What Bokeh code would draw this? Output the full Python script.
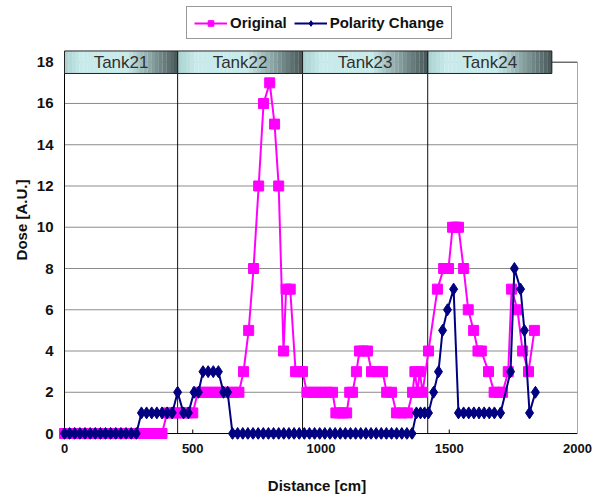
from bokeh.plotting import figure
from bokeh.models import Range1d, FixedTicker, Legend, LegendItem
from bokeh.core.properties import value
from bokeh.embed import file_html
from bokeh.resources import INLINE

# ---------------- data ----------------
orig_x = [0, 20, 40, 60, 80, 100, 120, 140, 160, 180, 200, 220, 240, 260, 280, 300, 320, 340, 360, 380,
          400, 420, 440, 460, 480, 500,
          520, 540, 560, 580, 600, 620, 640, 660, 680,
          698, 718, 737, 757, 776, 800, 819, 835, 854, 864, 880, 901, 915, 928,
          945, 965, 985, 1005, 1025, 1045, 1058, 1072, 1086, 1100, 1112, 1123,
          1138, 1150, 1165, 1181, 1197, 1218, 1240, 1256, 1275, 1294, 1315, 1337, 1357, 1366, 1376, 1385, 1396, 1419,
          1454, 1478, 1488, 1497, 1513, 1525, 1536, 1556, 1574, 1595, 1612, 1625, 1653, 1675, 1692, 1708, 1730,
          1743, 1766, 1786, 1809, 1832]
orig_y = [0, 0, 0, 0, 0, 0, 0, 0, 0, 0, 0, 0, 0, 0, 0, 0, 0, 0, 0, 0,
          1, 1, 1, 1, 1, 1,
          2, 2, 2, 2, 2, 2, 2, 2, 2,
          3, 5, 8, 12, 16, 17, 15, 12, 4, 7, 7, 3, 3, 3,
          2, 2, 2, 2, 2, 2, 1, 1, 1, 1, 2, 2,
          3, 4, 4, 4, 3, 3, 3, 2, 2, 1, 1, 1, 2, 3, 2, 3, 2, 4,
          7, 8, 8, 8, 10, 10, 10, 8, 6, 5, 4, 4, 3, 2, 2, 2, 3,
          7, 6, 4, 3, 5]

pol_x = [0, 20, 40, 60, 80, 100, 120, 140, 160, 180, 200, 220, 240, 260, 280,
         300, 320, 340, 360, 380, 400, 420, 441, 464, 483, 505, 522, 540, 560, 580, 600, 620, 636,
         655, 675, 695, 715, 735, 755, 775, 795, 815, 835, 855, 875, 895, 915, 935, 955, 975, 995,
         1015, 1035, 1055, 1075, 1095, 1115, 1135, 1155, 1175, 1195, 1215, 1235, 1255, 1275, 1295, 1315,
         1335, 1355,
         1372, 1388, 1404, 1419, 1439, 1458, 1474, 1493, 1517, 1536, 1556, 1576, 1596, 1616, 1636, 1656,
         1676, 1700, 1739, 1754, 1778, 1793, 1813, 1836]
pol_y = [0, 0, 0, 0, 0, 0, 0, 0, 0, 0, 0, 0, 0, 0, 0,
         1, 1, 1, 1, 1, 1, 1, 2, 1, 1, 2, 2, 3, 3, 3, 3, 2, 2,
         0, 0, 0, 0, 0, 0, 0, 0, 0, 0, 0, 0, 0, 0, 0, 0, 0, 0,
         0, 0, 0, 0, 0, 0, 0, 0, 0, 0, 0, 0, 0, 0, 0, 0,
         0, 0,
         1, 1, 1, 1, 2, 3, 5, 6, 7, 1, 1, 1, 1, 1, 1, 1,
         1, 1, 3, 8, 7, 5, 1, 2]

tank_names = ["Tank21", "Tank22", "Tank23", "Tank24"]
tank_edges = [0, 441, 928, 1416, 1900]

x_ticks = [0, 500, 1000, 1500, 2000]
y_ticks = [0, 2, 4, 6, 8, 10, 12, 14, 16, 18]

X_MIN, X_MAX = 0, 2000
Y_MIN, Y_MAX = 0, 18

# ---------------- layout constants ----------------
W, H = 600, 496
FRAME_L, FRAME_R, FRAME_T, FRAME_B = 56, 577, 0, 441
px_per_cm = (FRAME_R - 64) / (X_MAX - X_MIN)
px_per_unit = 20.72
x_start = X_MIN - (64 - FRAME_L) / px_per_cm
y_start = Y_MIN - (FRAME_B - 435) / px_per_unit
y_end = Y_MAX + (62 - FRAME_T) / px_per_unit
head_top = Y_MAX + (62 - 50.7) / px_per_unit
head_bot = Y_MAX - (73.3 - 62) / px_per_unit

FONT = "Liberation Sans"

p = figure(width=W, height=H, output_backend="svg", toolbar_location=None,
           x_range=Range1d(x_start, X_MAX), y_range=Range1d(y_start, y_end),
           min_border_left=FRAME_L, min_border_right=W - FRAME_R,
           min_border_top=FRAME_T, min_border_bottom=H - FRAME_B)
p.outline_line_color = None
p.xgrid.visible = False
p.ygrid.visible = False
p.background_fill_color = "white"
p.border_fill_color = "white"

for ax in (p.xaxis[0], p.yaxis[0]):
    ax.axis_line_color = None
    ax.major_tick_line_color = None
    ax.minor_tick_line_color = None
    ax.major_tick_out = 0
    ax.major_tick_in = 0
    ax.minor_tick_out = 0
    ax.minor_tick_in = 0
    ax.major_label_text_font = FONT
    ax.major_label_text_font_style = "bold"
    ax.major_label_text_color = "#111111"
    ax.axis_label_text_font = FONT
    ax.axis_label_text_font_style = "bold"
    ax.axis_label_text_color = "#111111"

p.xaxis.major_label_text_font_size = "13px"
p.yaxis.major_label_text_font_size = "15px"
p.xaxis.axis_label_text_font_size = "15px"
p.yaxis.axis_label_text_font_size = "15px"
p.xaxis.ticker = FixedTicker(ticks=x_ticks)
p.yaxis.ticker = FixedTicker(ticks=y_ticks)
p.xaxis.major_label_standoff = 4
p.yaxis.major_label_standoff = 3
p.xaxis.axis_label = "Distance [cm]"
p.yaxis.axis_label = "Dose [A.U.]"
p.xaxis.axis_label_standoff = 21
p.yaxis.axis_label_standoff = 4

# gridlines
grid_y = [t for t in y_ticks if t > Y_MIN]
p.segment(x0=[X_MIN] * len(grid_y), x1=[X_MAX] * len(grid_y), y0=grid_y, y1=grid_y,
          line_color="#8c8c8c", line_width=1)
# tank separators
seps = tank_edges[1:-1]
p.segment(x0=seps, x1=seps, y0=[Y_MIN] * len(seps), y1=[head_bot] * len(seps),
          line_color="#111111", line_width=1)
# right / top border
p.segment(x0=[X_MAX, tank_edges[-1]], x1=[X_MAX, X_MAX], y0=[Y_MIN, Y_MAX], y1=[Y_MAX, Y_MAX],
          line_color="#555555", line_width=1)
# axis lines
p.segment(x0=[X_MIN, X_MIN], x1=[X_MIN, X_MAX], y0=[Y_MIN, Y_MIN], y1=[Y_MAX, Y_MIN],
          line_color="#000000", line_width=1)
# small inward x ticks
tk = [t for t in x_ticks if X_MIN < t < X_MAX]
p.segment(x0=tk, x1=tk, y0=[Y_MIN] * len(tk), y1=[Y_MIN + 4 / px_per_unit] * len(tk),
          line_color="#000000", line_width=1)

# tank header with gradient look
def shade(t):
    light = (200, 234, 234)
    left = (170, 208, 208)
    dark = (70, 86, 86)
    if t < 0.15:
        a = t / 0.15
        c = [left[i] + (light[i] - left[i]) * a for i in range(3)]
    elif t < 0.55:
        c = light
    else:
        a = (t - 0.55) / 0.45
        c = [light[i] + (dark[i] - light[i]) * a for i in range(3)]
    return "#%02x%02x%02x" % tuple(int(round(v)) for v in c)

N = 30
sl, sr, sc = [], [], []
for i in range(len(tank_names)):
    a, b = tank_edges[i], tank_edges[i + 1]
    for k in range(N):
        sl.append(a + (b - a) * k / N)
        sr.append(a + (b - a) * (k + 1) / N + 0.5)
        sc.append(shade((k + 0.5) / N))
p.quad(left=sl, right=sr, top=[head_top] * len(sl), bottom=[head_bot] * len(sl),
       fill_color=sc, line_color=None)
p.quad(left=tank_edges[:-1], right=tank_edges[1:], top=[head_top] * 4, bottom=[head_bot] * 4,
       fill_alpha=0, line_color="#222222", line_width=1)
centers = [(tank_edges[i] + tank_edges[i + 1]) / 2 for i in range(4)]
p.text(x=centers, y=[(head_top + head_bot) / 2] * 4, text=tank_names,
       text_font=value(FONT), text_font_size="17px", text_color="#303030",
       text_align="center", text_baseline="middle")

# data series
MAG = "#ff00ff"
NAVY = "#000080"
l1 = p.line(orig_x, orig_y, line_color=MAG, line_width=2)
s1 = p.scatter(orig_x, orig_y, marker="square", size=10, fill_color=MAG, line_color=MAG)
l2 = p.line(pol_x, pol_y, line_color=NAVY, line_width=2)
s2 = p.scatter(pol_x, pol_y, marker="diamond", size=12, fill_color=NAVY, line_color=NAVY)

legend = Legend(items=[LegendItem(label="Original", renderers=[l1, s1]),
                       LegendItem(label="Polarity Change", renderers=[l2, s2])],
                orientation="horizontal", location=(186 - FRAME_L, FRAME_B - 13 - 28),
                border_line_color="#333333", border_line_width=1, background_fill_color="white",
                background_fill_alpha=1, label_text_font=FONT, label_text_font_style="bold",
                label_text_font_size="15px", label_text_color="#111111",
                glyph_width=33, glyph_height=14, label_height=14, label_standoff=3,
                spacing=7, padding=7, margin=0)
p.add_layout(legend, "center")

open("out.html", "w").write(file_html(p, INLINE))
